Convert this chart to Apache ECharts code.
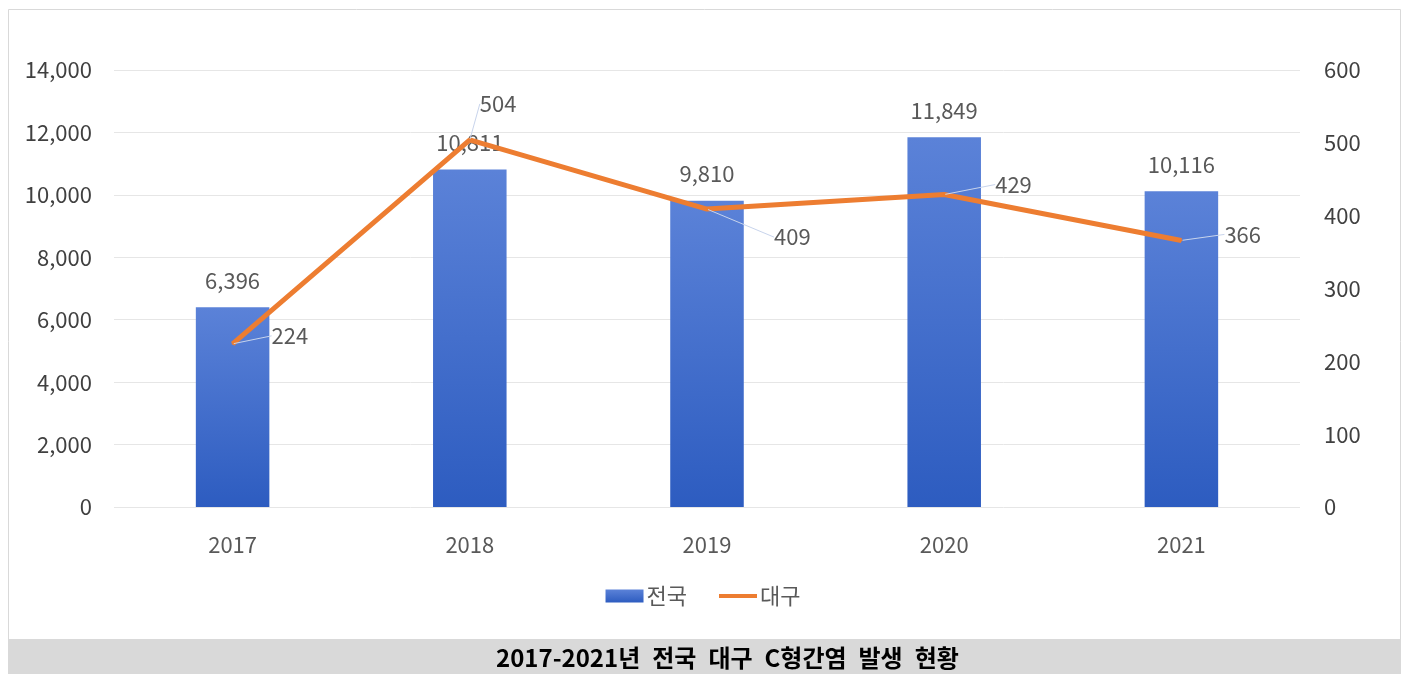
<!DOCTYPE html>
<html>
<head>
<meta charset="utf-8">
<script src="https://cdn.jsdelivr.net/npm/echarts@6/dist/echarts.min.js"></script>
<style>
html,body{margin:0;padding:0;background:#fff;}
#c{width:1406px;height:674px;}
</style>
</head>
<body>
<div id="c"></div>
<script>
const categories = ['2017', '2018', '2019', '2020', '2021'];
const nationalValues = [6396, 10811, 9810, 11849, 10116];
const daeguValues = [224, 504, 409, 429, 366];
const seriesNames = ['전국', '대구'];
const titleText = '2017-2021년\u2002전국\u2002대구\u2002C형간염\u2002발생\u2002현황';

const labelOffsets = [[38, -8], [9, -36], [66, 28], [50, -10], [42, -6]];
const FONT = '"Noto Sans CJK KR", "Noto Sans", sans-serif';
const fmt = v => Number(v).toLocaleString('en-US');

const chart = echarts.init(document.getElementById('c'), null, {renderer: 'canvas'});
chart.setOption({
  animation: false,
  backgroundColor: '#ffffff',
  textStyle: {fontFamily: FONT},
  graphic: [
    {type: 'rect', shape: {x: 8.5, y: 9.5, width: 1392, height: 664}, style: {fill: 'none', stroke: '#d9d9d9', lineWidth: 1}, z: -10},
    {type: 'rect', shape: {x: 8, y: 639, width: 1393, height: 35}, style: {fill: '#d9d9d9'}, z: -5},
    {type: 'text', left: 496, top: 646, style: {text: titleText, font: 'bold 24px ' + FONT, fill: '#000000'}, z: 10}
  ],
  grid: {left: 114, right: 106, top: 70, bottom: 167},
  legend: {
    bottom: 62,
    left: 'center',
    itemWidth: 38,
    itemHeight: 13,
    itemGap: 32,
    textStyle: {fontSize: 22, color: '#595959', padding: [0, 0, 0, -2]},
    data: [
      {name: seriesNames[0], icon: 'rect'},
      {name: seriesNames[1], icon: 'path://M0,0 L38,0 L38,4 L0,4 Z'}
    ]
  },
  xAxis: {
    type: 'category',
    data: categories,
    axisLine: {show: false},
    axisTick: {show: false},
    axisLabel: {fontSize: 22, color: '#595959', margin: 27}
  },
  yAxis: [
    {
      type: 'value', min: 0, max: 14000, interval: 2000,
      axisLine: {show: false}, axisTick: {show: false},
      axisLabel: {fontSize: 22, color: '#404040', margin: 22, formatter: v => fmt(v)},
      splitLine: {lineStyle: {color: '#e6e6e6', width: 1}}
    },
    {
      type: 'value', min: 0, max: 600, interval: 100,
      axisLine: {show: false}, axisTick: {show: false},
      axisLabel: {fontSize: 22, color: '#404040', margin: 24},
      splitLine: {show: false}
    }
  ],
  series: [
    {
      name: seriesNames[0],
      type: 'bar',
      data: nationalValues,
      barWidth: '31%',
      itemStyle: {
        color: new echarts.graphic.LinearGradient(0, 0, 0, 1, [
          {offset: 0, color: '#5b82d8'},
          {offset: 1, color: '#2d5cc0'}
        ])
      },
      label: {
        show: true, position: 'top', distance: 16,
        fontSize: 22, color: '#595959',
        formatter: p => fmt(p.value)
      }
    },
    {
      name: seriesNames[1],
      type: 'line',
      yAxisIndex: 1,
      data: daeguValues,
      symbol: 'circle',
      symbolSize: 2,
      itemStyle: {color: '#ed7d31'},
      lineStyle: {color: '#ed7d31', width: 5},
      label: {
        show: true, position: 'right', distance: 0,
        fontSize: 22, color: '#595959'
      },
      labelLine: {show: true, lineStyle: {color: '#c8d4ec', width: 1}},
      labelLayout: p => ({dx: labelOffsets[p.dataIndex][0], dy: labelOffsets[p.dataIndex][1]}),
      z: 5
    }
  ]
});
</script>
</body>
</html>
